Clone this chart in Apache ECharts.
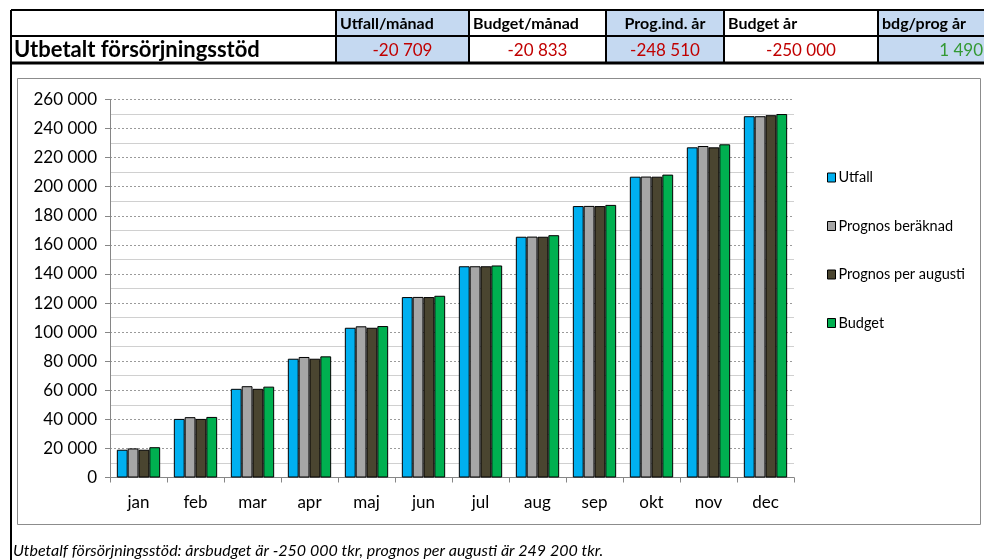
<!DOCTYPE html>
<html>
<head>
<meta charset="utf-8">
<script src="https://cdn.jsdelivr.net/npm/echarts@6/dist/echarts.min.js"></script>
<style>
html,body{margin:0;padding:0;background:#fff;}
#main{width:984px;height:560px;}
</style>
</head>
<body>
<div id="main"></div>
<script>
// ---- data ----
var categories = ['jan','feb','mar','apr','maj','jun','jul','aug','sep','okt','nov','dec'];
var seriesNames = ['Utfall','Prognos beräknad','Prognos per augusti','Budget'];
var utfall = [19100, 40300, 61000, 81700, 103000, 124100, 145300, 165600, 186700, 206900, 227100, 248510];
var prognosBeraknad = [20000, 41500, 62800, 82900, 104000, 124200, 145300, 165700, 186800, 207000, 228000, 248500];
var prognosAugusti = [19100, 40300, 61000, 81700, 103000, 124100, 145300, 165600, 186700, 206900, 227100, 249200];
var budget = [20833, 41667, 62500, 83333, 104167, 125000, 145833, 166667, 187500, 208333, 229167, 250000];
var headerTitle = 'Utbetalt försörjningsstöd';
var headerLabels = ['Utfall/månad','Budget/månad','Prog.ind. år','Budget år','bdg/prog år'];
var headerValues = ['-20 709','-20 833','-248 510','-250 000','1 490'];
var footnote = 'Utbetalf försörjningsstöd: årsbudget är -250 000 tkr, prognos per augusti är 249 200 tkr.';

// ---- styles / layout ----
var colors = ['#00b0f0','#a6a6a6','#4a4530','#00b050'];
var FONT = 'Lato, "Open Sans", sans-serif';
var colX = [336, 469, 606, 724, 878, 986];
var colBg = ['#c5d9f1','#ffffff','#c5d9f1','#ffffff','#c5d9f1'];
var labelAlign = ['left','left','center','left','left'];
var valueAlign = ['center','center','center','center','right'];
var valueColor = ['#c00000','#c00000','#c00000','#c00000','#339933'];
var rowTop = 10, rowMid = 36, rowBot = 63;

function fmt(v){ return String(v).replace(/\B(?=(\d{3})+(?!\d))/g, ' '); }

var graphics = [];
for (var i = 0; i < headerLabels.length; i++) {
  var x0 = colX[i], x1 = colX[i+1];
  graphics.push({type:'rect', shape:{x:x0, y:rowTop, width:x1-x0, height:rowBot-rowTop}, style:{fill:colBg[i]}, z:1});
  var lx = labelAlign[i]==='left' ? x0+4 : (x0+x1)/2;
  graphics.push({type:'text', x:lx, y:(rowTop+rowMid)/2+1, style:{text:headerLabels[i], font:'bold 16px '+FONT, fill:'#000', align:labelAlign[i], verticalAlign:'middle'}, z:3});
  var vx = valueAlign[i]==='center' ? (x0+x1)/2 : (valueAlign[i]==='right' ? x1-3 : x0+4);
  graphics.push({type:'text', x:vx, y:(rowMid+rowBot)/2+1, style:{text:headerValues[i], font:'17px '+FONT, fill:valueColor[i], align:valueAlign[i], verticalAlign:'middle'}, z:3});
}
graphics.push({type:'text', x:14, y:(rowMid+rowBot)/2, style:{text:headerTitle, font:'bold 22px '+FONT, fill:'#000', align:'left', verticalAlign:'middle'}, z:3});
var L = {stroke:'#000', lineWidth:2};
graphics.push({type:'line', shape:{x1:11,y1:rowTop,x2:986,y2:rowTop}, style:L, z:4});
graphics.push({type:'line', shape:{x1:11,y1:rowMid,x2:986,y2:rowMid}, style:L, z:4});
graphics.push({type:'line', shape:{x1:11,y1:rowBot,x2:986,y2:rowBot}, style:{stroke:'#000', lineWidth:3}, z:4});
graphics.push({type:'line', shape:{x1:11,y1:rowTop,x2:11,y2:560}, style:{stroke:'#000', lineWidth:2}, z:4});
for (var j = 0; j < colX.length-1; j++) {
  graphics.push({type:'line', shape:{x1:colX[j],y1:rowTop,x2:colX[j],y2:rowBot}, style:L, z:4});
}
graphics.push({type:'rect', shape:{x:17.5, y:78.5, width:963, height:446}, style:{fill:'none', stroke:'#8c8c8c', lineWidth:1}, z:0});
graphics.push({type:'text', x:13, y:551, style:{text:footnote, font:'italic 16px '+FONT, fill:'#000', align:'left', verticalAlign:'middle'}, z:3});

var dataSets = [utfall, prognosBeraknad, prognosAugusti, budget];
var series = seriesNames.map(function(n, k){
  return {
    name:n, type:'bar', data:dataSets[k],
    barGap:'0%', barCategoryGap:'24%',
    itemStyle:{color:colors[k], borderColor:'#000', borderWidth:1},
    emphasis:{disabled:true}
  };
});

var chart = echarts.init(document.getElementById('main'), null, {renderer:'canvas'});
chart.setOption({
  animation:false,
  textStyle:{fontFamily:FONT},
  grid:{left:110, right:190, top:99.5, bottom:82.5, containLabel:false},
  legend:{
    orient:'vertical', left:822, top:165, itemWidth:8, itemHeight:9, itemGap:33.5,
    icon:'rect',
    itemStyle:{borderColor:'#000', borderWidth:1},
    textStyle:{fontSize:14.5, color:'#000', fontFamily:FONT, padding:[0,0,0,-2]},
    data:seriesNames
  },
  xAxis:{
    type:'category', data:categories,
    axisLine:{lineStyle:{color:'#868686'}},
    axisTick:{show:true, alignWithLabel:false, length:5, lineStyle:{color:'#868686'}},
    axisLabel:{fontSize:17, color:'#000', margin:17, fontFamily:FONT}
  },
  yAxis:{
    type:'value', min:0, max:260000, interval:20000,
    axisLine:{show:true, lineStyle:{color:'#868686'}},
    axisTick:{show:true, length:5, lineStyle:{color:'#868686'}},
    axisLabel:{fontSize:17, color:'#000', margin:13, fontFamily:FONT, formatter:function(v){return fmt(v);}},
    splitLine:{show:true, lineStyle:{color:'#9a9a9a', type:[2,2], width:1}},
    minorTick:{show:false, splitNumber:2},
    minorSplitLine:{show:true, lineStyle:{color:'#d0d0d0', width:1}}
  },
  graphic:graphics,
  series:series
});
</script>
</body>
</html>
